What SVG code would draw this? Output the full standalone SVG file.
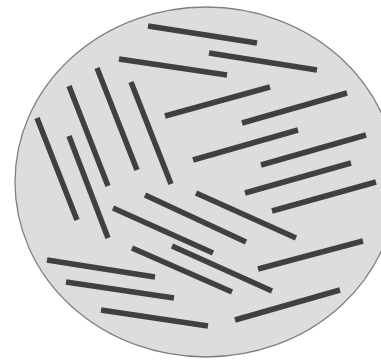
<svg xmlns="http://www.w3.org/2000/svg" width="381" height="360" viewBox="0 0 381 360">
<style>
.dish{fill:#dddddd;stroke:#808080;stroke-width:1.3}
.r{stroke:#404040;stroke-width:5.5;stroke-linecap:butt}
</style>
<rect width="381" height="360" fill="#ffffff"/>
<ellipse class="dish" cx="206" cy="182" rx="191" ry="175"/>
<g id="rods">
<line class="r" x1="148" y1="26" x2="257" y2="43"/>
<line class="r" x1="119" y1="59" x2="227" y2="75"/>
<line class="r" x1="209" y1="53" x2="317" y2="70"/>
<line class="r" x1="165" y1="116" x2="270" y2="87"/>
<line class="r" x1="242" y1="123" x2="347" y2="93"/>
<line class="r" x1="193" y1="160" x2="298" y2="130"/>
<line class="r" x1="261" y1="165" x2="366" y2="135"/>
<line class="r" x1="245" y1="193" x2="351" y2="163"/>
<line class="r" x1="272" y1="211" x2="376" y2="182"/>
<line class="r" x1="258" y1="269" x2="363" y2="241"/>
<line class="r" x1="235" y1="320" x2="340" y2="290"/>
<line class="r" x1="37" y1="118" x2="77" y2="220"/>
<line class="r" x1="69" y1="86" x2="108" y2="186"/>
<line class="r" x1="69" y1="136" x2="108" y2="238"/>
<line class="r" x1="97" y1="68" x2="137" y2="170"/>
<line class="r" x1="131" y1="82" x2="171" y2="184"/>
<line class="r" x1="47" y1="260" x2="155" y2="277"/>
<line class="r" x1="66" y1="282" x2="174" y2="298"/>
<line class="r" x1="101" y1="310" x2="208" y2="326"/>
<line class="r" x1="113" y1="208" x2="213" y2="253"/>
<line class="r" x1="145" y1="195" x2="246" y2="242"/>
<line class="r" x1="196" y1="193" x2="296" y2="238"/>
<line class="r" x1="132" y1="248" x2="232" y2="292"/>
<line class="r" x1="172" y1="246" x2="272" y2="291"/>
</g>
</svg>
